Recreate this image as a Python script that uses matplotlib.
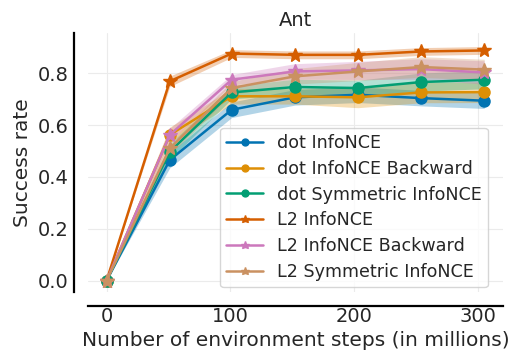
import numpy as np
import matplotlib
matplotlib.use("Agg")
import matplotlib.pyplot as plt
import seaborn as sns

# x positions (millions of environment steps)
steps = [0, 51, 101, 152, 203, 254, 305]

labels = ["dot InfoNCE", "dot InfoNCE Backward", "dot Symmetric InfoNCE",
          "L2 InfoNCE", "L2 InfoNCE Backward", "L2 Symmetric InfoNCE"]
markers = ["o", "o", "o", "*", "*", "*"]

mean_dot = [0.0, 0.465, 0.659, 0.707, 0.717, 0.704, 0.694]
mean_dot_bwd = [0.0, 0.562, 0.711, 0.711, 0.707, 0.726, 0.727]
mean_dot_sym = [0.0, 0.497, 0.726, 0.747, 0.743, 0.766, 0.775]
mean_l2 = [0.0, 0.769, 0.876, 0.871, 0.871, 0.884, 0.888]
mean_l2_bwd = [0.0, 0.562, 0.775, 0.807, 0.811, 0.816, 0.803]
mean_l2_sym = [0.0, 0.510, 0.743, 0.788, 0.807, 0.824, 0.814]

# half-width of shaded bands
err_dot = [0.0, 0.03, 0.03, 0.03, 0.03, 0.03, 0.03]
err_dot_bwd = [0.0, 0.03, 0.03, 0.03, 0.04, 0.04, 0.04]
err_dot_sym = [0.0, 0.03, 0.025, 0.03, 0.03, 0.035, 0.035]
err_l2 = [0.0, 0.02, 0.015, 0.015, 0.015, 0.015, 0.015]
err_l2_bwd = [0.0, 0.025, 0.02, 0.03, 0.035, 0.04, 0.045]
err_l2_sym = [0.0, 0.025, 0.025, 0.03, 0.035, 0.04, 0.04]

means = [mean_dot, mean_dot_bwd, mean_dot_sym, mean_l2, mean_l2_bwd, mean_l2_sym]
errs = [err_dot, err_dot_bwd, err_dot_sym, err_l2, err_l2_bwd, err_l2_sym]

sns.set_style("whitegrid", {"axes.edgecolor": "black", "grid.color": "#ebebeb"})
plt.rcParams["font.family"] = ["DejaVu Sans"]
colors = sns.color_palette("colorblind")

fig = plt.figure(figsize=(5.12, 3.52), dpi=100)
ax = fig.add_axes([0.172, 0.17, 0.81, 0.736])

x = np.array(steps)
for i, (lab, mk, m, e) in enumerate(zip(labels, markers, means, errs)):
    m = np.array(m)
    e = np.array(e)
    ax.fill_between(x, m - e, m + e, color=colors[i], alpha=0.3, linewidth=0)
    ax.plot(x, m, color=colors[i], marker=mk, markersize=8 if mk == "o" else 10,
            linewidth=1.8, label=lab)

ax.set_xlim(-15, 320)
ax.set_ylim(-0.045, 0.955)
ax.set_xticks([0, 100, 200, 300])
ax.set_yticks([0.0, 0.2, 0.4, 0.6, 0.8])
ax.tick_params(labelsize=14, length=0)
ax.tick_params(axis="x", pad=1)
ax.tick_params(axis="y", pad=4)
ax.set_xlabel("Number of environment steps (in millions)", fontsize=14.5, labelpad=3)
ax.set_ylabel("Success rate", fontsize=14.5)
ax.set_title("Ant", fontsize=14, pad=5)

sns.despine(ax=ax, offset=10)
for s in ["left", "bottom"]:
    ax.spines[s].set_linewidth(1.6)

ax.legend(loc="lower right", fontsize=12.6, frameon=True, handlelength=2.1,
          markerscale=0.62, borderpad=0.35, labelspacing=0.45, handletextpad=0.8,
          bbox_to_anchor=(0.985, -0.015))

fig.savefig("out.png", dpi=100)
